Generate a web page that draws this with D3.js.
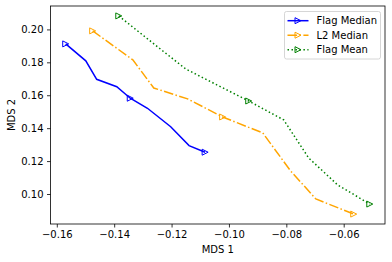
<!DOCTYPE html>
<html>
<head>
<meta charset="utf-8">
<script src="https://cdn.jsdelivr.net/npm/d3@7"></script>
<style>
  body { margin: 0; background: #fff; }
  svg { display: block; font-family: "DejaVu Sans", sans-serif; }
</style>
</head>
<body>
<div id="chart"></div>
<script>
// values
const flagMedianX = [-0.1569, -0.1499, -0.1461, -0.1391, -0.1344, -0.1284, -0.1203, -0.1139, -0.1083]
const flagMedianY = [0.1912, 0.1809, 0.1697, 0.1652, 0.1582, 0.1521, 0.1409, 0.1294, 0.1254]
const l2MedianX = [-0.1475, -0.1335, -0.1262, -0.1144, -0.1022, -0.0882, -0.0785, -0.0697, -0.0565]
const l2MedianY = [0.1991, 0.1815, 0.1644, 0.1578, 0.1468, 0.1371, 0.1140, 0.0970, 0.0878]
const flagMeanX = [-0.1384, -0.1266, -0.1151, -0.1042, -0.0931, -0.0809, -0.0722, -0.0621, -0.0509]
const flagMeanY = [0.2082, 0.1918, 0.1760, 0.1663, 0.1565, 0.1450, 0.1219, 0.1055, 0.0939]
const xTicks = [-0.16, -0.14, -0.12, -0.10, -0.08, -0.06]
const yTicks = [0.10, 0.12, 0.14, 0.16, 0.18, 0.20]
const seriesNames = ['Flag Median', 'L2 Median', 'Flag Mean']

const W = 392, H = 262
const plotL = 50.5, plotR = 385, plotT = 6, plotB = 224

const series = [
  { name: seriesNames[0], xs: flagMedianX, ys: flagMedianY, color: 'blue', dash: null },
  { name: seriesNames[1], xs: l2MedianX, ys: l2MedianY, color: 'orange', dash: '9.6,2.4,1.5,2.4' },
  { name: seriesNames[2], xs: flagMeanX, ys: flagMeanY, color: 'green', dash: '1.5,2.475' }
]
series.forEach(s => { s.pts = s.xs.map((x, i) => [x, s.ys[i]]) })

// matplotlib style 5% margins
function pad(ext) {
  const d = (ext[1] - ext[0]) * 0.05
  return [ext[0] - d, ext[1] + d]
}
const allX = series.flatMap(s => s.xs), allY = series.flatMap(s => s.ys)
const x = d3.scaleLinear().domain(pad(d3.extent(allX))).range([plotL, plotR])
const y = d3.scaleLinear().domain(pad(d3.extent(allY))).range([plotB, plotT])

const svg = d3.select('#chart').append('svg')
  .attr('width', W).attr('height', H)

const xAxis = d3.axisBottom(x).tickValues(xTicks).tickFormat(d3.format('.2f')).tickSizeOuter(0).tickSize(3.5).tickPadding(3.5)
const yAxis = d3.axisLeft(y).tickValues(yTicks).tickFormat(d3.format('.2f')).tickSizeOuter(0).tickSize(3.5).tickPadding(3.5)

const gx = svg.append('g').attr('transform', 'translate(0,' + plotB + ')').call(xAxis)
const gy = svg.append('g').attr('transform', 'translate(' + plotL + ',0)').call(yAxis)
;[gx, gy].forEach(g => {
  g.select('.domain').remove()
  g.selectAll('line').attr('stroke', '#000').attr('stroke-width', 0.8)
  g.selectAll('text').attr('fill', '#000').style('font-size', '10px').style('font-family', '"DejaVu Sans", sans-serif')
})

// frame
svg.append('rect')
  .attr('x', plotL).attr('y', plotT)
  .attr('width', plotR - plotL).attr('height', plotB - plotT)
  .attr('fill', 'none').attr('stroke', '#000').attr('stroke-width', 0.8)

const line = d3.line().x(d => x(d[0])).y(d => y(d[1]))
const tri = 'M3,0L-3,-3L-3,3Z'

const plot = svg.append('g')
series.forEach(s => {
  plot.append('path')
    .attr('d', line(s.pts))
    .attr('fill', 'none')
    .attr('stroke', s.color)
    .attr('stroke-width', 1.5)
    .attr('stroke-dasharray', s.dash)
  // markers every 4 points
  plot.selectAll(null)
    .data(s.pts.filter((d, i) => i % 4 == 0))
    .join('path')
    .attr('d', tri)
    .attr('transform', d => 'translate(' + x(d[0]) + ',' + y(d[1]) + ')')
    .attr('fill', 'none')
    .attr('stroke', s.color)
    .attr('stroke-width', 1)
})

// axis labels
svg.append('text')
  .attr('x', (plotL + plotR) / 2).attr('y', 253)
  .attr('text-anchor', 'middle')
  .style('font-size', '10px')
  .text('MDS 1')
svg.append('text')
  .attr('transform', 'translate(15,' + (plotT + plotB) / 2 + ') rotate(-90)')
  .attr('text-anchor', 'middle')
  .style('font-size', '10px')
  .text('MDS 2')

// legend
const legend = svg.append('g').attr('transform', 'translate(284.5,11.5)')
legend.append('rect')
  .attr('width', 96).attr('height', 47.5)
  .attr('rx', 2)
  .attr('fill', 'rgba(255,255,255,0.8)')
  .attr('stroke', '#cccccc').attr('stroke-width', 0.8)
series.forEach((s, i) => {
  const cy = 9.2 + i * 14.5
  legend.append('line')
    .attr('x1', 3).attr('x2', 24).attr('y1', cy).attr('y2', cy)
    .attr('stroke', s.color).attr('stroke-width', 1.5)
    .attr('stroke-dasharray', s.dash)
  legend.append('path')
    .attr('d', tri)
    .attr('transform', 'translate(13.5,' + cy + ')')
    .attr('fill', 'none').attr('stroke', s.color).attr('stroke-width', 1)
  legend.append('text')
    .attr('x', 32).attr('y', cy + 3.6)
    .style('font-size', '10px')
    .text(s.name)
})
</script>
</body>
</html>
